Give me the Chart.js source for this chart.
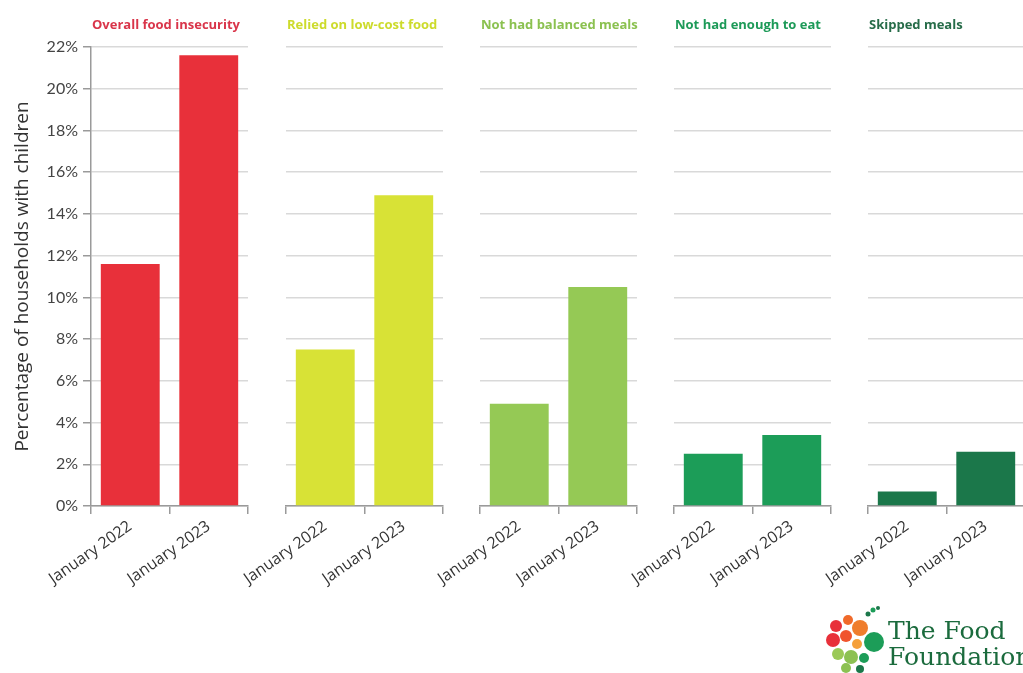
<!DOCTYPE html>
<html>
<head>
<meta charset="utf-8">
<script src="https://cdn.jsdelivr.net/npm/chart.js@4/dist/chart.umd.min.js"></script>
<style>
  html, body { margin: 0; padding: 0; background: #fff; }
  #wrap { position: relative; width: 1023px; height: 673px; overflow: hidden; }
  #wrap canvas { position: absolute; top: 0; }
  #logo { position: absolute; left: 824px; top: 604px; width: 220px; height: 70px; }
  #logo .name { position: absolute; left: 64px; top: 14px; font-family: "DejaVu Serif", serif;
    font-size: 25px; line-height: 26px; color: #1b6b3d; white-space: nowrap; }
</style>
</head>
<body>
<div id="wrap">
  <canvas id="p0" width="250" height="673"></canvas>
  <canvas id="p1" width="259" height="673"></canvas>
  <canvas id="p2" width="259" height="673"></canvas>
  <canvas id="p3" width="259" height="673"></canvas>
  <canvas id="p4" width="259" height="673"></canvas>
  <div id="logo">
    <svg width="64" height="70" viewBox="0 0 64 70">
      <circle cx="12" cy="22" r="6" fill="#e8303a"/>
      <circle cx="24" cy="16" r="5" fill="#f06a2a"/>
      <circle cx="36" cy="24" r="8" fill="#ef7d2c"/>
      <circle cx="9" cy="36" r="7" fill="#e8303a"/>
      <circle cx="22" cy="32" r="6" fill="#f0542d"/>
      <circle cx="50" cy="38" r="10" fill="#1c9d58"/>
      <circle cx="33" cy="40" r="5" fill="#f5a03a"/>
      <circle cx="14" cy="50" r="6" fill="#9bc957"/>
      <circle cx="27" cy="53" r="7" fill="#8cc152"/>
      <circle cx="40" cy="54" r="5" fill="#1c9d58"/>
      <circle cx="22" cy="64" r="5" fill="#8cc152"/>
      <circle cx="36" cy="65" r="4" fill="#1b774a"/>
      <circle cx="44" cy="10" r="2.5" fill="#1b774a"/>
      <circle cx="49" cy="6" r="2.5" fill="#1c9d58"/>
      <circle cx="54" cy="4" r="2" fill="#1b774a"/>
    </svg>
    <div class="name">The Food<br>Foundation</div>
  </div>
</div>
<script>
const categories = ['Overall food insecurity', 'Relied on low-cost food', 'Not had balanced meals', 'Not had enough to eat', 'Skipped meals'];
const periods = ['January 2022', 'January 2023'];
const jan2022 = [11.6, 7.5, 4.9, 2.5, 0.7];
const jan2023 = [21.6, 14.9, 10.5, 3.4, 2.6];
const yMin = 0;
const yMax = 22;
const yStep = 2;
const yTitle = 'Percentage of households with children';

const barColors = ['#e8303a', '#d8e236', '#95c955', '#1c9d58', '#1b774a'];
const titleColors = ['#d9354a', '#cddb2c', '#8bc150', '#1d9a58', '#276c49'];

// layout of the small multiples (plot area left edges, in page pixels)
const panelLeft = [91, 286, 480, 674, 868];
const plotTop = 47;
const plotBottom = 506;
const pageHeight = 673;

const panelTitle = {
    id: 'panelTitle',
    afterDraw(chart, args, opts) {
        const ctx = chart.ctx;
        ctx.save();
        ctx.font = 'bold 13px "Open Sans"';
        ctx.fillStyle = opts.color;
        ctx.textBaseline = 'middle';
        ctx.fillText(opts.text, chart.chartArea.left + 1, 25);
        ctx.restore();
    }
};

function makePanel(i) {
    const first = i === 0;
    const canvas = document.getElementById('p' + i);
    const leftPad = first ? 0 : 100;
    canvas.style.left = (first ? 0 : panelLeft[i] - 100) + 'px';

    new Chart(canvas.getContext('2d'), {
        type: 'bar',
        data: {
            labels: periods,
            datasets: [{
                data: [jan2022[i], jan2023[i]],
                backgroundColor: barColors[i],
                borderWidth: 0,
                barPercentage: 0.75,
                categoryPercentage: 1
            }]
        },
        options: {
            responsive: false,
            animation: false,
            layout: {
                padding: { top: plotTop, left: leftPad, right: 2, bottom: 0 }
            },
            scales: {
                x: {
                    afterFit: scale => { scale.height = pageHeight - plotBottom; },
                    grid: {
                        drawOnChartArea: false,
                        drawTicks: true,
                        tickLength: 8,
                        tickColor: '#9a9a9a',
                        lineWidth: 1.5
                    },
                    border: { display: true, color: '#9a9a9a', width: 1.5 },
                    ticks: {
                        minRotation: 35,
                        maxRotation: 35,
                        padding: 3,
                        color: '#333',
                        font: { family: 'Open Sans', size: 16 }
                    }
                },
                y: {
                    min: yMin,
                    max: yMax,
                    afterFit: scale => { scale.width = first ? panelLeft[0] : 0; },
                    grid: {
                        color: '#d9d9d9',
                        lineWidth: 1.5,
                        drawTicks: first,
                        tickLength: 8,
                        tickColor: '#9a9a9a'
                    },
                    border: { display: first, color: '#9a9a9a', width: 1.5 },
                    ticks: {
                        display: first,
                        stepSize: yStep,
                        padding: 5,
                        color: '#444',
                        font: { family: 'Lato', size: 16 },
                        callback: value => value + '%'
                    },
                    title: {
                        display: first,
                        text: yTitle,
                        color: '#333',
                        padding: { top: 11, bottom: 0 },
                        font: { family: 'Open Sans', size: 19 }
                    }
                }
            },
            plugins: {
                legend: { display: false },
                tooltip: { enabled: false },
                panelTitle: { text: categories[i], color: titleColors[i] }
            }
        },
        plugins: [panelTitle]
    });
}

categories.forEach((c, i) => makePanel(i));
</script>
</body>
</html>
